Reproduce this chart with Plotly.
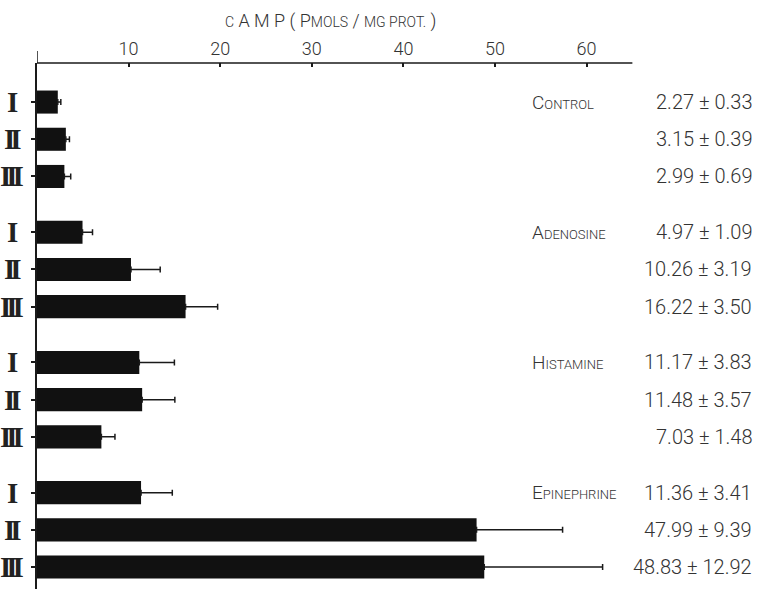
import plotly.graph_objects as go

# ---- data ----
groups = ["Control", "Adenosine", "Histamine", "Epinephrine"]
subgroups = ["I", "II", "III"]
means = [2.27, 3.15, 2.99, 4.97, 10.26, 16.22, 11.17, 11.48, 7.03, 11.36, 47.99, 48.83]
sems = [0.33, 0.39, 0.69, 1.09, 3.19, 3.50, 3.83, 3.57, 1.48, 3.41, 9.39, 12.92]
xticks = [10, 20, 30, 40, 50, 60]

# ---- styling ----
W, H = 763, 589
ML, MT = 37, 63
XMAX = 79.26
FONT = "Roboto, Liberation Sans, sans-serif"
INK = "#1a1a1a"
TXT = "#333333"

GROUP_STEP = 3.5
pos = []
for g in range(len(groups)):
    for i in range(len(subgroups)):
        pos.append(g * GROUP_STEP + i)


def smallcaps(text, big, small):
    out = []
    for word in text.split(" "):
        if not word:
            continue
        out.append(f'<span style="font-size:{big}px">{word[0].upper()}</span>'
                   f'<span style="font-size:{small}px">{word[1:].upper()}</span>')
    return " ".join(out)


fig = go.Figure()
fig.add_trace(go.Bar(
    x=means, y=pos, orientation="h", width=0.62,
    marker=dict(color="#111111", line=dict(width=0)),
    error_x=dict(type="data", symmetric=False, array=sems, arrayminus=[0] * len(sems),
                 color=INK, thickness=1.5, width=3),
    hoverinfo="skip",
))

annotations = []
# group labels and values on the right
for g, name in enumerate(groups):
    annotations.append(dict(
        x=53.8, y=pos[g * 3], xref="x", yref="y", xanchor="left", yanchor="middle",
        text=smallcaps(name, 19, 13), showarrow=False,
        font=dict(family=FONT, size=19, color=TXT, weight=300)))
for k, (m, s) in enumerate(zip(means, sems)):
    annotations.append(dict(
        x=78.3, y=pos[k], xref="x", yref="y", xanchor="right", yanchor="middle",
        text=f"{m:.2f} ± {s:.2f}", showarrow=False,
        font=dict(family=FONT, size=20, color=TXT, weight=300)))
# roman numerals on the left
for k in range(len(pos)):
    lab = subgroups[k % 3]
    annotations.append(dict(
        x=(12 - ML) / (W - ML), y=pos[k], xref="paper", yref="y",
        xanchor="center", yanchor="middle",
        text=f'<span style="letter-spacing:-5px">{lab}</span>', showarrow=False,
        font=dict(family="Liberation Serif, DejaVu Serif, serif", size=29, color="#222", weight="bold")))
# title
title = ('<span style="font-size:14px">C</span> A M P ( '
         + smallcaps("Pmols", 18, 14) + " / " + '<span style="font-size:14px">MG PROT.</span> )')
annotations.append(dict(
    x=(330 - ML) / (W - ML), y=1 + (MT - 21) / (H - MT), xref="paper", yref="paper",
    xanchor="center", yanchor="middle", text=title, showarrow=False,
    font=dict(family=FONT, size=18, color=TXT, weight=300)))

shapes = [
    # top axis line
    dict(type="line", xref="x", yref="paper", x0=0, x1=65, y0=1, y1=1,
         line=dict(color=INK, width=1.5)),
    # vertical axis extension above top axis
    dict(type="line", xref="x", yref="paper", x0=0, x1=0, y0=1, y1=1 + 12 / (H - MT),
         line=dict(color=INK, width=1.5)),
]

fig.update_layout(
    width=W, height=H,
    margin=dict(l=ML, r=0, t=MT, b=0, autoexpand=False),
    paper_bgcolor="white", plot_bgcolor="white",
    showlegend=False,
    annotations=annotations,
    shapes=shapes,
    xaxis=dict(range=[0, XMAX], side="top", tickvals=xticks, ticks="inside",
               ticklen=4, tickwidth=1.5, tickcolor=INK, showgrid=False, zeroline=False,
               showline=False, automargin=False, ticklabelstandoff=3,
               tickfont=dict(family=FONT, size=18, color=TXT, weight=300)),
    yaxis=dict(range=[12.5 + 0.59, -1.05], tickvals=pos, ticks="outside", ticklen=4,
               tickwidth=1.5, tickcolor=INK, showticklabels=False, showline=True,
               linecolor=INK, linewidth=1.5, showgrid=False, zeroline=False,
               automargin=False),
)

fig.write_html("out.html", config={"displayModeBar": False},
               post_script="document.body.style.margin='0';")
